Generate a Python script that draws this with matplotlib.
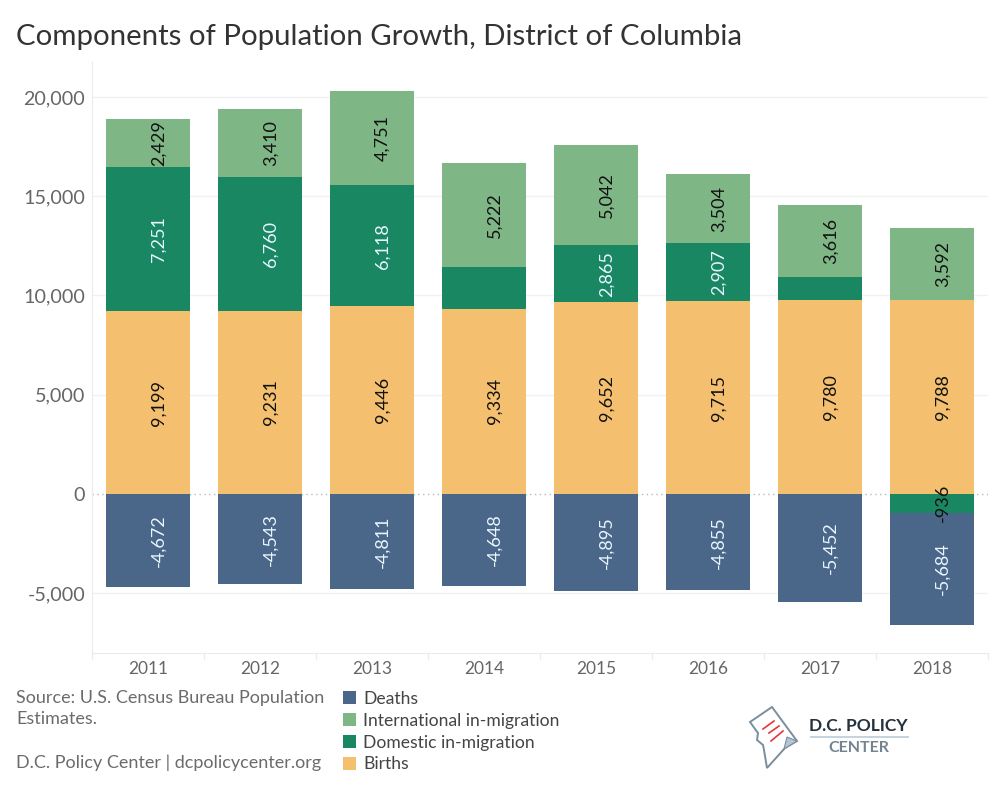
import matplotlib
matplotlib.use('Agg')
import matplotlib.pyplot as plt
from matplotlib.patches import Polygon
from matplotlib.ticker import FuncFormatter
import numpy as np

plt.rcParams['font.family'] = ['Lato', 'DejaVu Sans']

years = ['2011', '2012', '2013', '2014', '2015', '2016', '2017', '2018']
births = np.array([9199, 9231, 9446, 9334, 9652, 9715, 9780, 9788])
domestic = np.array([7251, 6760, 6118, 2102, 2865, 2907, 1152, -936])
international = np.array([2429, 3410, 4751, 5222, 5042, 3504, 3616, 3592])
deaths = np.array([-4672, -4543, -4811, -4648, -4895, -4855, -5452, -5684])
# the chart leaves these two segments unlabelled
domestic_hidden = ['2014', '2017']

W, H = 1000, 800
fig = plt.figure(figsize=(W / 100, H / 100), dpi=100)
ax = fig.add_axes([92 / W, 1 - 653 / H, (988 - 92) / W, (653 - 62) / H])

x = np.arange(len(years))
bar_w = 0.75
label_dx = 7.5  # labels sit right of the bar centre

pos = np.zeros(len(years))
neg = np.zeros(len(years))
series = [
    (births, '#F4C06F', 'Births', '#111111'),
    (domestic, '#1A8763', 'Domestic in-migration', '#E8F6FF'),
    (international, '#7FB685', 'International in-migration', '#111111'),
    (deaths, '#4A6688', 'Deaths', '#E8F6FF'),
]
handles = {}
for vals, color, name, txt in series:
    bottoms = np.where(vals >= 0, pos, neg)
    bars = ax.bar(x, vals, bar_w, bottom=bottoms, color=color, zorder=3, label=name)
    handles[name] = bars
    for i, v in enumerate(vals):
        if name == 'Domestic in-migration' and years[i] in domestic_hidden:
            continue
        c = '#111111' if v == -936 else txt
        ax.annotate(f'{v:,}', (x[i], bottoms[i] + v / 2), xytext=(label_dx, 0),
                    textcoords='offset points', rotation=90, ha='center', va='center',
                    fontsize=13, color=c, zorder=5)
    pos += np.where(vals >= 0, vals, 0)
    neg += np.where(vals < 0, vals, 0)

ax.set_xlim(-0.5, 7.5)
ax.set_ylim(-8010, 21760)
ax.set_yticks([-5000, 0, 5000, 10000, 15000, 20000])
ax.yaxis.set_major_formatter(FuncFormatter(lambda v, p: f'{int(v):,}'))
ax.set_xticks(x)
ax.set_xticklabels(years)
ax.set_xticks(np.arange(-0.5, 8, 1), minor=True)
ax.tick_params(axis='x', which='major', length=0, pad=6, labelsize=12.5, labelcolor='#666666')
ax.tick_params(axis='x', which='minor', length=4, color='#EBEBEB', width=1)
ax.tick_params(axis='y', length=0, pad=5, labelsize=14.2, labelcolor='#666666')

ax.grid(axis='y', color='#F1F1F1', lw=1, zorder=0)
ax.set_axisbelow(True)
ax.get_ygridlines()[1].set_visible(False)
ax.axhline(0, color='#BBBBBB', lw=1, ls=(0, (1, 2.5)), zorder=1)

for s in ['top', 'right']:
    ax.spines[s].set_visible(False)
for s in ['left', 'bottom']:
    ax.spines[s].set_color('#EBEBEB')

fig.text(16 / W, 1 - 37 / H, 'Components of Population Growth, District of Columbia',
         fontsize=21.2, color='#333333', va='center', ha='left')

fig.text(16 / W, 1 - 698 / H, 'Source: U.S. Census Bureau Population', fontsize=13, color='#6B6B6B', va='center')
fig.text(16 / W, 1 - 719 / H, 'Estimates.', fontsize=13, color='#6B6B6B', va='center')
fig.text(16 / W, 1 - 763 / H, 'D.C. Policy Center | dcpolicycenter.org', fontsize=13, color='#6B6B6B', va='center')

order = ['Deaths', 'International in-migration', 'Domestic in-migration', 'Births']
fig.legend([handles[n] for n in order], order, loc='upper left',
           bbox_to_anchor=(343 / W, 1 - 691 / H), borderaxespad=0, borderpad=0,
           frameon=False, fontsize=12.65, labelcolor='#444444', handlelength=0.74,
           handleheight=0.74, handletextpad=0.4, labelspacing=0.33)

# logo, drawn in pixel coordinates on an overlay
logo = fig.add_axes([0, 0, 1, 1], facecolor='none')
logo.set_xlim(0, W)
logo.set_ylim(H, 0)
logo.axis('off')
outline = [(750, 722), (772, 707), (797, 741), (785, 748), (767, 768), (764, 750), (763, 745), (757, 740), (758, 733)]
logo.add_patch(Polygon(outline, closed=True, fc='white', ec='#7C8D9C', lw=1.4))
logo.add_patch(Polygon([(784, 749), (787, 737), (797, 741)], closed=True, fc='#B5C5D3', ec='#7C8D9C', lw=0.8))
for x0, y0, x1, y1 in [(763, 729, 774, 721), (769, 733, 779, 726), (771, 741, 783, 731)]:
    logo.plot([x0, x1], [y0, y1], color='#E8343C', lw=1.2)
logo.text(858, 726, 'D.C. POLICY', fontsize=12.5, fontweight='bold', color='#24323E', ha='center', va='center')
logo.plot([811, 908], [737, 737], color='#C5D3E0', lw=1.4)
logo.text(859, 748, 'CENTER', fontsize=11.5, fontweight='bold', color='#74838F', ha='center', va='center')

fig.savefig('out.png', dpi=100)
